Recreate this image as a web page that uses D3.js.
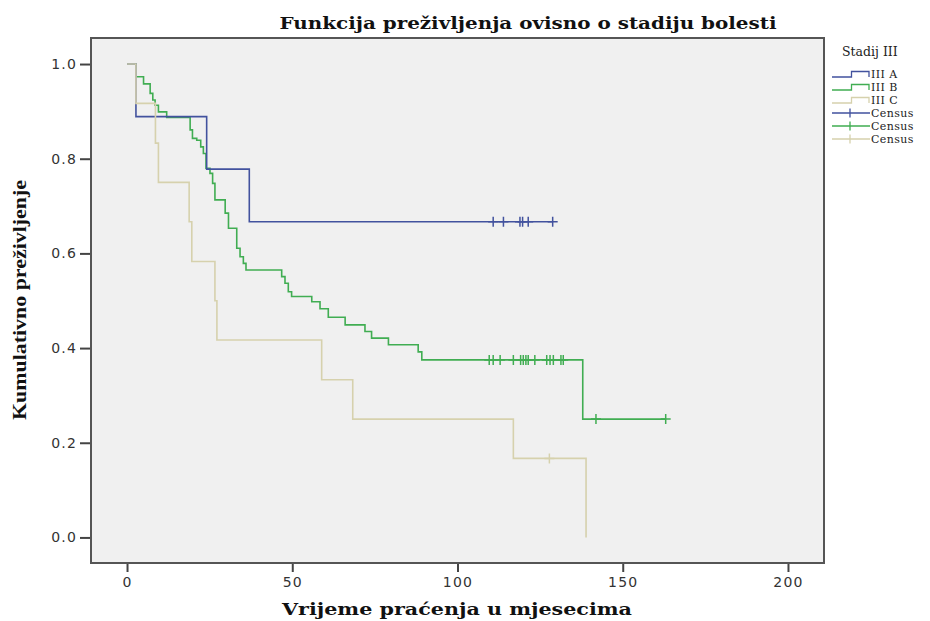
<!DOCTYPE html>
<html><head><meta charset="utf-8">
<script src="https://cdn.jsdelivr.net/npm/d3@7"></script>
<style>
html,body{margin:0;padding:0;background:#fff;}
svg{display:block;}
</style>
</head><body>
<svg id="chart" width="930" height="621"></svg>
<script>
// ---- Data ----
const seriesNames = ["III A", "III B", "III C"];
const seriesColors = ["#42529e", "#40ad52", "#d6d1ad"];

// Stadij III A: step points (month, cumulative survival)
const timesA = [0, 2.7, 24.1, 37.0, 128.8];
const survA  = [1.0, 0.889, 0.778, 0.667, 0.667];
const censusA = [110.8, 113.9, 118.9, 119.7, 121.4, 128.8];

// Stadij III B
const timesB = [0, 2.7, 5.0, 7.0, 7.8, 8.5, 9.5, 12.0, 19.1, 19.8, 21.1, 22.3, 23.1, 23.9, 25.1, 25.9, 26.6,
                29.7, 30.7, 33.2, 34.2, 35.2, 36.0, 46.8, 47.8, 48.8, 49.8, 55.9, 58.4, 60.9, 66.0, 72.0,
                74.0, 79.1, 88.1, 89.2, 137.9, 163.0];
const survB  = [1.0, 0.973, 0.958, 0.938, 0.924, 0.913, 0.899, 0.887, 0.861, 0.843, 0.839, 0.825, 0.811, 0.780, 0.769, 0.748, 0.713,
                0.685, 0.653, 0.611, 0.593, 0.579, 0.565, 0.551, 0.537, 0.519, 0.509, 0.498, 0.483, 0.465, 0.449, 0.435,
                0.421, 0.407, 0.392, 0.375, 0.25, 0.25];
const censusB = [109.6, 110.8, 112.9, 116.9, 119.1, 119.9, 120.7, 121.4, 123.4, 127.0, 128.0, 129.0, 131.3, 132.0, 141.9, 163.0];

// Stadij III C
const timesC = [0, 2.7, 8.6, 9.5, 18.8, 19.6, 26.6, 27.2, 58.9, 68.3, 116.9, 138.9];
const survC  = [1.0, 0.917, 0.833, 0.75, 0.667, 0.583, 0.5, 0.417, 0.333, 0.25, 0.167, 0.0];
const censusC = [127.8];

const xTicks = [0, 50, 100, 150, 200];
const yTicks = [0.0, 0.2, 0.4, 0.6, 0.8, 1.0];

const titleText = "Funkcija preživljenja ovisno o stadiju bolesti";
const xLabel = "Vrijeme praćenja u mjesecima";
const yLabel = "Kumulativno preživljenje";
const legendTitle = "Stadij III";
const censusLabel = "Census";

// ---- Layout ----
const svg = d3.select("#chart");
const L = 91, R = 824, T = 38, B = 563;

const x = d3.scaleLinear().domain([-10.9, 210.9]).range([L, R]);
const y = d3.scaleLinear().domain([-0.054, 1.055]).range([B, T]);

// plot background
svg.append("rect").attr("x", L).attr("y", T).attr("width", R - L).attr("height", B - T)
  .attr("fill", "#f0f0f0");

// axes
const gx = svg.append("g").attr("transform", `translate(0,${B})`)
  .call(d3.axisBottom(x).tickValues(xTicks).tickFormat(d3.format("d")).tickSize(9).tickPadding(5));
const gy = svg.append("g").attr("transform", `translate(${L},0)`)
  .call(d3.axisLeft(y).tickValues(yTicks).tickFormat(d3.format(".1f")).tickSize(11).tickPadding(3));
[gx, gy].forEach(g => {
  g.select(".domain").remove();
  g.selectAll(".tick line").attr("stroke", "#444").attr("stroke-width", 2);
  g.selectAll(".tick text").attr("fill", "#333")
    .style("font-family", "'DejaVu Sans', sans-serif").style("font-size", "14px")
    .style("letter-spacing", "1.2px");
});

// survival curves
const clipId = "plotclip";
svg.append("clipPath").attr("id", clipId).append("rect")
  .attr("x", L).attr("y", T).attr("width", R - L).attr("height", B - T);

const line = d3.line().x(d => x(d[0])).y(d => y(d[1])).curve(d3.curveStepAfter);
const series = [
  {times: timesA, surv: survA, census: censusA},
  {times: timesB, surv: survB, census: censusB},
  {times: timesC, surv: survC, census: censusC}
];

function survAt(s, t) {
  let v = s.surv[0];
  for (let i = 0; i < s.times.length; i++) { if (s.times[i] <= t) v = s.surv[i]; }
  return v;
}

const plotG = svg.append("g").attr("clip-path", `url(#${clipId})`);
[1, 0, 2].forEach(i => {
  const s = series[i];
  const pts = s.times.map((t, k) => [t, s.surv[k]]);
  plotG.append("path").datum(pts)
    .attr("d", line).attr("fill", "none")
    .attr("stroke", seriesColors[i]).attr("stroke-width", 1.6);
  const cg = plotG.append("g");
  s.census.forEach(t => {
    const cx = x(t), cy = y(survAt(s, t));
    cg.append("path")
      .attr("d", `M${cx - 5},${cy}H${cx + 5}M${cx},${cy - 5}V${cy + 5}`)
      .attr("stroke", seriesColors[i]).attr("stroke-width", 1.5).attr("fill", "none");
  });
});

// frame on top
svg.append("rect").attr("x", L).attr("y", T).attr("width", R - L).attr("height", B - T)
  .attr("fill", "none").attr("stroke", "#555").attr("stroke-width", 2);

// title
svg.append("text").attr("x", 528).attr("y", 29).attr("text-anchor", "middle")
  .style("font-family", "'DejaVu Serif', serif").style("font-weight", "bold").style("font-size", "16px")
  .attr("textLength", 497).attr("lengthAdjust", "spacingAndGlyphs")
  .attr("fill", "#111").text(titleText);

// x label
svg.append("text").attr("x", 457).attr("y", 615).attr("text-anchor", "middle")
  .style("font-family", "'DejaVu Serif', serif").style("font-weight", "bold").style("font-size", "17px")
  .attr("textLength", 350).attr("lengthAdjust", "spacingAndGlyphs")
  .attr("fill", "#111").text(xLabel);

// y label
svg.append("text").attr("transform", "translate(26,300) rotate(-90)").attr("text-anchor", "middle")
  .style("font-family", "'Liberation Serif', serif").style("font-weight", "bold").style("font-size", "19px")
  .attr("textLength", 240).attr("lengthAdjust", "spacingAndGlyphs")
  .attr("fill", "#111").text(yLabel);

// legend
const lg = svg.append("g");
const legFont = "'DejaVu Serif', serif";
lg.append("text").attr("x", 842).attr("y", 56)
  .style("font-family", legFont).style("font-size", "12.5px").attr("fill", "#222").text(legendTitle);
const rowY = [74, 87, 100, 113, 126, 139];
seriesNames.forEach((n, i) => {
  const cy = rowY[i];
  lg.append("path")
    .attr("d", `M832,${cy + 3}H851.5V${cy - 2.5}H869V${cy + 3}`)
    .attr("fill", "none").attr("stroke", seriesColors[i]).attr("stroke-width", 1.3);
  lg.append("text").attr("x", 871).attr("y", cy + 4)
    .style("font-family", legFont).style("font-size", "11px").style("letter-spacing", "0.4px")
    .attr("fill", "#222").text(n);
});
seriesNames.forEach((n, i) => {
  const cy = rowY[3 + i];
  lg.append("path")
    .attr("d", `M832,${cy}H870M850,${cy - 4.5}V${cy + 4.5}`)
    .attr("fill", "none").attr("stroke", seriesColors[i]).attr("stroke-width", 1.3);
  lg.append("text").attr("x", 871).attr("y", cy + 4)
    .style("font-family", legFont).style("font-size", "11px").style("letter-spacing", "0.4px")
    .attr("fill", "#222").text(censusLabel);
});
</script>
</body></html>
